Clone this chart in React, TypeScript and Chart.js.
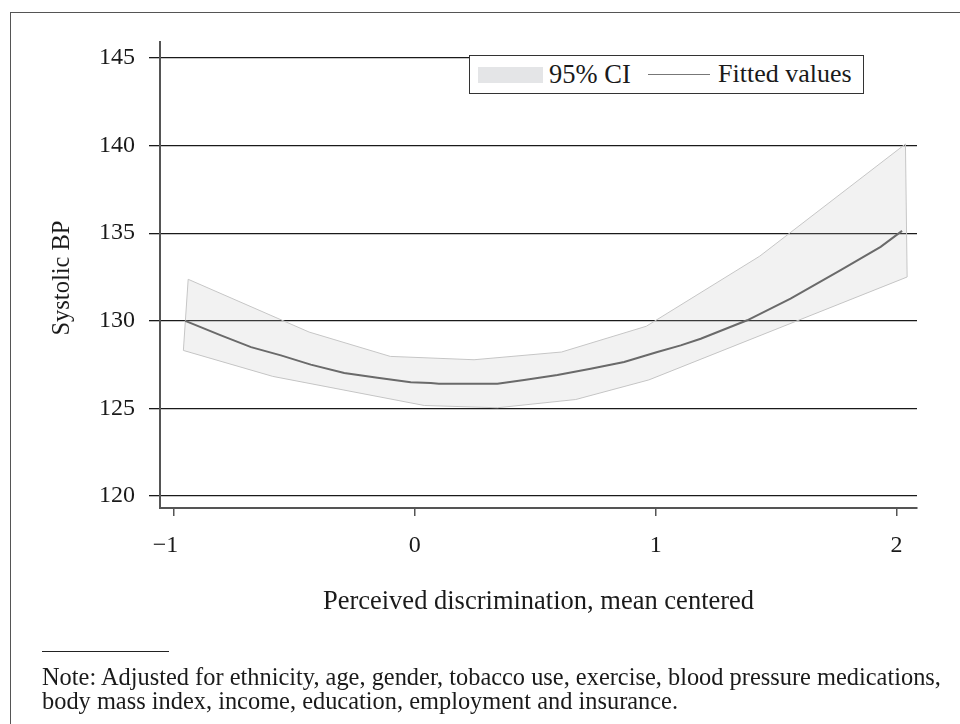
import React, { useEffect, useRef } from "react";
import { Chart, registerables } from "chart.js";

Chart.register(...registerables);

// Fitted values (quadratic fit of systolic BP on perceived discrimination)
const fitX = [-0.953, -0.805, -0.68, -0.556, -0.432, -0.293, -0.155, -0.017, 0.066, 0.1, 0.343, 0.454, 0.592, 0.73, 0.869, 1.007, 1.104, 1.187, 1.38, 1.56, 1.768, 1.934, 2.023];
const fitY = [130.0, 129.17, 128.5, 128.03, 127.5, 127.02, 126.75, 126.5, 126.45, 126.41, 126.41, 126.63, 126.91, 127.27, 127.65, 128.22, 128.6, 128.98, 130.03, 131.27, 132.89, 134.22, 135.13];

// 95% CI upper bound
const ciUpperX = [-0.941, -0.439, -0.102, 0.246, 0.609, 0.961, 1.432, 2.037];
const ciUpperY = [132.37, 129.36, 127.97, 127.78, 128.22, 129.69, 133.69, 140.09];

// 95% CI lower bound
const ciLowerX = [-0.961, -0.59, 0.039, 0.343, 0.668, 0.972, 2.044];
const ciLowerY = [128.31, 126.83, 125.17, 125.04, 125.51, 126.63, 132.5];

const xTicks = [-1, 0, 1, 2];
const yTicks = [120, 125, 130, 135, 140, 145];

const X_MIN = -1.058;
const X_MAX = 2.085;
const Y_MIN = 119.32;
const Y_MAX = 145.91;

const FONT = '"Liberation Serif", "Times New Roman", serif';
const INK = "#1a1a1a";

export default function App() {
  const canvasRef = useRef<HTMLCanvasElement | null>(null);

  useEffect(() => {
    const canvas = canvasRef.current;
    if (!canvas) return;

    const fitted = fitX.map((x, i) => ({ x, y: fitY[i] }));
    const lower = ciLowerX.map((x, i) => ({ x, y: ciLowerY[i] }));
    const upperCore = ciUpperX.map((x, i) => ({ x, y: ciUpperY[i] }));
    // close the band outline with the lower bound's end points
    const upper = [lower[0], ...upperCore, lower[lower.length - 1]];

    const chart = new Chart(canvas, {
      type: "scatter",
      data: {
        datasets: [
          {
            label: "Fitted values",
            data: fitted,
            showLine: true,
            borderColor: "#6a6a6a",
            borderWidth: 2,
            pointRadius: 0,
            fill: false,
            tension: 0,
          },
          {
            label: "95% CI",
            data: upper,
            showLine: true,
            borderColor: "#c6c6c6",
            borderWidth: 1,
            pointRadius: 0,
            backgroundColor: "rgba(190,190,190,0.2)",
            fill: "+1",
            tension: 0,
          },
          {
            label: "95% CI lower",
            data: lower,
            showLine: true,
            borderColor: "#c6c6c6",
            borderWidth: 1,
            pointRadius: 0,
            fill: false,
            tension: 0,
          },
        ],
      },
      options: {
        animation: false,
        responsive: false,
        devicePixelRatio: 1,
        events: [],
        layout: { padding: { left: 20, top: 42, right: 43, bottom: 106 } },
        plugins: {
          legend: { display: false },
          tooltip: { enabled: false },
          title: { display: false },
        },
        scales: {
          x: {
            type: "linear",
            min: X_MIN,
            max: X_MAX,
            afterBuildTicks: (s: any) => {
              s.ticks = xTicks.map((v) => ({ value: v }));
            },
            afterFit: (s: any) => {
              s.height = 110;
            },
            grid: {
              drawOnChartArea: false,
              drawTicks: true,
              tickLength: 8,
              color: "#555",
              lineWidth: 1.5,
            },
            border: { display: true, color: "#555", width: 2 },
            ticks: {
              padding: 15,
              color: INK,
              font: { family: FONT, size: 24 },
              maxRotation: 0,
              autoSkip: false,
              callback: (v: any) =>
                Number(v) < 0 ? "\u2212" + Math.abs(Number(v)) + "\u2002\u2009" : String(v),
            },
            title: {
              display: true,
              text: "Perceived discrimination, mean centered",
              color: INK,
              font: { family: FONT, size: 26.5 },
              padding: { top: 0, bottom: 0 },
            },
          },
          y: {
            type: "linear",
            min: Y_MIN,
            max: Y_MAX,
            afterBuildTicks: (s: any) => {
              s.ticks = yTicks.map((v) => ({ value: v }));
            },
            afterFit: (s: any) => {
              s.width = 140;
            },
            grid: {
              drawOnChartArea: true,
              drawTicks: true,
              tickLength: 11,
              color: "#1a1a1a",
              lineWidth: 1.3,
            },
            border: { display: true, color: "#555", width: 2 },
            ticks: {
              padding: 14,
              color: INK,
              font: { family: FONT, size: 24 },
              autoSkip: false,
            },
            title: {
              display: true,
              text: "Systolic BP ",
              color: INK,
              font: { family: FONT, size: 24.5 },
              padding: { top: 28, bottom: 0 },
            },
          },
        },
      },
    });

    return () => chart.destroy();
  }, []);

  return (
    <div
      style={{
        position: "fixed",
        left: 0,
        top: 0,
        width: 960,
        height: 724,
        background: "#fff",
        overflow: "hidden",
        fontFamily: FONT,
        color: INK,
      }}
    >
      {/* outer frame */}
      <div
        style={{
          position: "absolute",
          left: 10,
          top: 12,
          width: 1000,
          height: 800,
          border: "1.5px solid #555",
        }}
      />
      <canvas
        ref={canvasRef}
        width={960}
        height={724}
        style={{ position: "absolute", left: 0, top: 0, width: 960, height: 724 }}
      />
      {/* white strip hiding the top grid line to the right of the legend */}
      <div style={{ position: "absolute", left: 860, top: 55, width: 60, height: 8, background: "#fff" }} />
      {/* legend */}
      <div
        style={{
          position: "absolute",
          left: 469,
          top: 55,
          width: 395,
          height: 39,
          boxSizing: "border-box",
          border: "1.5px solid #333",
          background: "#fff",
        }}
      >
        <div style={{ position: "absolute", left: 8, top: 11, width: 65, height: 16, background: "#e4e5e7" }} />
        <div style={{ position: "absolute", left: 79, top: 2, fontSize: 26.5, lineHeight: "32px", whiteSpace: "nowrap" }}>95% CI</div>
        <div style={{ position: "absolute", left: 178, top: 18, width: 62, height: 0, borderTop: "1.5px solid #777" }} />
        <div style={{ position: "absolute", left: 248, top: 2, fontSize: 26, lineHeight: "32px", whiteSpace: "nowrap" }}>Fitted values</div>
      </div>
      {/* note */}
      <div style={{ position: "absolute", left: 42, top: 651, width: 127, height: 0, borderTop: "1.5px solid #222" }} />
      <div style={{ position: "absolute", left: 42, top: 665, fontSize: 24.4, lineHeight: "24px", whiteSpace: "nowrap" }}>
        Note: Adjusted for ethnicity, age, gender, tobacco use, exercise, blood pressure medications,
      </div>
      <div style={{ position: "absolute", left: 42, top: 689, fontSize: 24.4, lineHeight: "24px", whiteSpace: "nowrap" }}>
        body mass index, income, education, employment and insurance.
      </div>
    </div>
  );
}
